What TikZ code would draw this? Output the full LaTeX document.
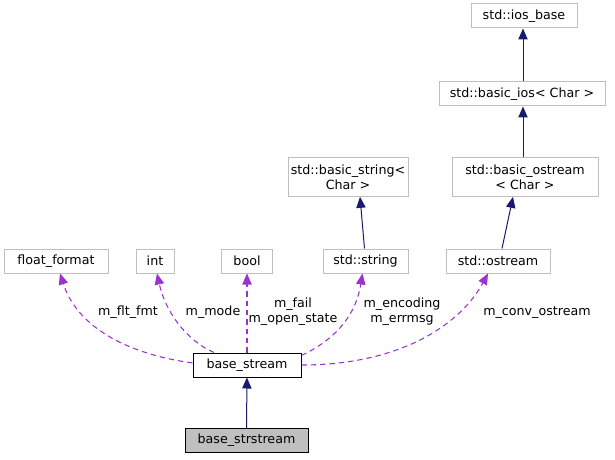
\documentclass[tikz,border=0pt]{standalone}
\usepackage{fontspec}
\setmainfont{DejaVu Sans}
\usetikzlibrary{arrows.meta,calc}
\definecolor{usepurple}{HTML}{9A32CD}
\definecolor{inhnavy}{HTML}{191970}
\definecolor{boxgrey}{HTML}{BFBFBF}
\tikzset{every node/.style={font=\fontsize{9.5}{11.25}\selectfont, inner sep=0pt},
 cls/.style={draw=boxgrey, fill=white, line width=0.75pt, minimum height=18pt, align=center},
 clstwo/.style={cls, minimum height=29pt},
 inherit/.style={inhnavy, line width=0.75pt, -{Triangle[length=8.25pt,width=7pt]}},
 usage/.style={usepurple, line width=0.8pt, dash pattern=on 4pt off 3pt, -{Triangle[length=8.25pt,width=7pt]}},
 lbl/.style={align=center}}

\begin{document}
\begin{tikzpicture}[x=0.75pt,y=-0.75pt]
  \useasboundingbox (0,0) rectangle (615,460);
  \node[cls, minimum width=79.5pt] (iosb) at (524,16) {std::ios\_base};
  \node[cls, minimum width=124.5pt] (bios) at (522,94) {std::basic\_ios< Char >};
  \node[clstwo, minimum width=109.5pt] (bostr) at (525,177) {std::basic\_ostream\\< Char >};
  \node[clstwo, minimum width=90pt] (bstr) at (348,177) {std::basic\_string<\\Char >};
  \node[cls, minimum width=78pt] (ff) at (56,261) {float\_format};
  \node[cls, minimum width=28.5pt] (int) at (155,261) {int};
  \node[cls, minimum width=38.25pt] (flag) at (247,261) {bool};
  \node[cls, minimum width=63.75pt] (str) at (365.5,261) {std::string};
  \node[cls, minimum width=78pt] (ostr) at (498,261) {std::ostream};
  \node[cls, draw=black, minimum width=81pt] (bs) at (247,365) {base\_stream};
  \node[cls, draw=black, fill=boxgrey, minimum width=92.25pt] (bss) at (246.5,440.5) {base\_strstream};

  \draw[inherit] (bss) -- (bs);
  \draw[inherit] ($(str.north)+(-1,0)$) -- ($(bstr.south)+(12,0)$);
  \draw[inherit] ($(ostr.north)+(4,0)$) -- ($(bostr.south)+(-12,0)$);
  \draw[inherit] ($(bostr.north)+(-2,0)$) -- ($(bios.south)+(1,0)$);
  \draw[inherit] ($(bios.north)+(1,0)$) -- ($(iosb.south)+(-1,0)$);

  \draw[usage] ($(bs.west)+(0,-2)$) .. controls (115,352) and (75,320) .. ($(ff.south)+(4,0)$);
  \draw[usage] ($(bs.north)+(-33,0)$) .. controls (185,340) and (165,310) .. ($(int.south)+(2,0)$);
  \draw[usage] (bs.north) -- (flag.south);
  \draw[usage] ($(bs.north east)+(0,3)$) .. controls (330,342) and (355,320) .. ($(str.south)+(-3,0)$);
  \draw[usage] (bs.east) .. controls (400,365) and (460,325) .. ($(ostr.south)+(-10,0)$);

  \node[lbl] (lflt) at (128,312) {m\_flt\_fmt};
  \node[lbl] (lmode) at (213,312) {m\_mode};
  \node[lbl] (lfail) at (293,312) {m\_fail\\m\_open\_state};
  \node[lbl] (lenc) at (402,312) {m\_encoding\\m\_errmsg};
  \node[lbl] (lconv) at (537,313) {m\_conv\_ostream};
\end{tikzpicture}
\end{document}
